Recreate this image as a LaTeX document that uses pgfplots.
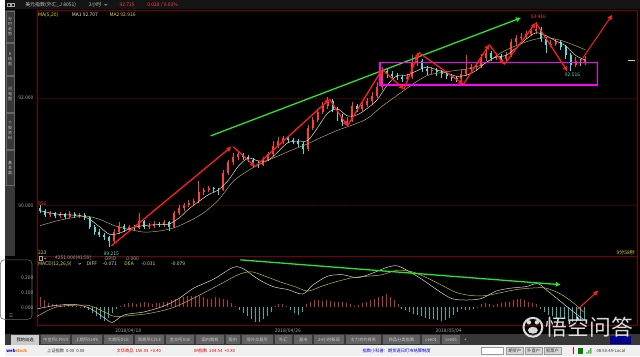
\documentclass[border=0pt]{standalone}
\usepackage{pgfplots}
\pgfplotsset{compat=1.18}
\usepackage{pgfplotstable}
\usepackage{fontspec}
\setmainfont{Noto Sans CJK SC}
\usetikzlibrary{arrows.meta}
\definecolor{brd}{RGB}{120,0,0}
\definecolor{grd}{RGB}{80,0,0}
\definecolor{upc}{RGB}{255,60,60}
\definecolor{dnc}{RGB}{80,220,220}
\definecolor{maone}{RGB}{225,225,200}
\definecolor{matwo}{RGB}{185,165,80}
\definecolor{arrred}{RGB}{255,30,30}
\definecolor{arrgreen}{RGB}{40,230,40}
\definecolor{mag}{RGB}{255,0,255}
\definecolor{lgray}{RGB}{170,170,170}
\definecolor{ylw}{RGB}{230,220,60}
\definecolor{histr}{RGB}{190,50,50}
\definecolor{histc}{RGB}{60,175,175}
\definecolor{tabbg}{RGB}{55,55,55}
\definecolor{tabtx}{RGB}{200,200,200}
\newcommand\fs{\fontsize{5}{6}\selectfont}
\newcommand\fss{\fontsize{4.3}{5}\selectfont}

\pgfplotstableread{
x o h l c
45 89.82 89.90 89.79 89.85
55 89.80 89.88 89.77 89.83
65 89.78 89.90 89.76 89.84
75 89.80 89.86 89.77 89.82
110 89.33 89.55 89.30 89.50
115 89.50 89.68 89.47 89.62
125 89.55 89.64 89.52 89.60
135 89.57 89.85 89.55 89.70
145 89.60 89.67 89.56 89.62
150 89.62 89.70 89.58 89.65
160 89.63 89.73 89.60 89.68
170 89.60 89.90 89.58 89.85
175 89.85 90.00 89.82 89.95
180 89.95 90.05 89.90 90.00
185 90.00 90.10 89.96 90.05
190 90.05 90.12 90.00 90.08
195 90.08 90.45 90.05 90.25
200 90.25 90.33 90.20 90.28
205 90.28 90.36 90.24 90.32
220 90.28 90.65 90.26 90.60
225 90.60 90.85 90.57 90.80
230 90.80 90.98 90.76 90.90
235 90.90 91.00 90.85 90.95
260 90.76 90.90 90.73 90.85
265 90.85 91.00 90.82 90.95
270 90.95 91.20 90.92 91.10
275 91.10 91.28 91.07 91.20
280 91.20 91.30 91.15 91.25
305 91.05 91.50 91.02 91.45
310 91.45 91.65 91.40 91.60
315 91.60 91.80 91.56 91.75
320 91.75 91.92 91.70 91.85
325 91.85 92.02 91.80 91.95
345 91.55 91.64 91.50 91.58
350 91.58 91.92 91.55 91.85
360 91.80 91.94 91.76 91.88
365 91.88 92.00 91.84 91.95
370 91.95 92.12 91.90 92.05
375 92.05 92.30 92.00 92.20
380 92.20 92.58 92.15 92.50
405 92.36 92.46 92.30 92.40
410 92.40 92.80 92.36 92.65
415 92.65 92.85 92.60 92.70
430 92.50 92.58 92.45 92.52
460 92.36 92.52 92.33 92.45
465 92.45 92.80 92.42 92.55
470 92.55 92.64 92.50 92.58
475 92.58 92.66 92.53 92.60
480 92.60 92.82 92.57 92.75
485 92.75 92.92 92.70 92.85
495 92.75 92.84 92.71 92.78
505 92.74 92.86 92.70 92.80
510 92.80 93.10 92.77 93.05
515 93.05 93.18 93.00 93.12
520 93.12 93.22 93.08 93.15
525 93.15 93.26 93.10 93.20
530 93.20 93.32 93.16 93.25
535 93.25 93.416 93.20 93.30
550 93.00 93.08 92.95 93.02
555 93.02 93.10 92.98 93.05
575 92.62 92.76 92.58 92.70
585 92.65 92.78 92.62 92.725
}\upcandles

\pgfplotstableread{
x o h l c
35 89.95 90.00 89.85 89.90
40 89.90 89.93 89.78 89.82
50 89.85 89.88 89.76 89.80
60 89.83 89.86 89.74 89.78
70 89.84 89.87 89.76 89.80
80 89.82 89.85 89.72 89.78
85 89.78 89.80 89.55 89.60
90 89.60 89.63 89.45 89.50
95 89.50 89.55 89.40 89.45
100 89.45 89.48 89.35 89.40
105 89.40 89.43 89.215 89.33
120 89.62 89.65 89.50 89.55
130 89.60 89.63 89.52 89.57
140 89.70 89.72 89.55 89.60
155 89.65 89.69 89.59 89.63
165 89.68 89.70 89.52 89.60
210 90.32 90.35 90.25 90.30
215 90.30 90.33 90.20 90.28
240 90.95 90.98 90.85 90.90
245 90.90 90.94 90.80 90.85
250 90.85 90.88 90.72 90.78
255 90.78 90.82 90.70 90.76
285 91.25 91.28 91.17 91.22
290 91.22 91.26 91.15 91.20
295 91.20 91.24 91.08 91.15
300 91.15 91.18 90.95 91.05
330 91.95 91.98 91.74 91.80
335 91.80 91.84 91.58 91.65
340 91.65 91.70 91.48 91.55
355 91.85 91.90 91.74 91.80
385 92.50 92.55 92.38 92.45
390 92.45 92.50 92.36 92.42
395 92.42 92.47 92.34 92.40
400 92.40 92.44 92.30 92.36
420 92.70 92.74 92.48 92.55
425 92.55 92.60 92.44 92.50
435 92.52 92.56 92.42 92.48
440 92.48 92.53 92.38 92.45
445 92.45 92.50 92.36 92.42
450 92.42 92.46 92.32 92.38
455 92.38 92.42 92.30 92.36
490 92.85 92.88 92.70 92.75
500 92.78 92.82 92.69 92.74
540 93.30 93.33 93.05 93.10
545 93.10 93.14 92.85 93.00
560 93.05 93.08 92.90 92.95
565 92.95 93.00 92.74 92.80
570 92.80 92.84 92.516 92.62
580 92.70 92.74 92.60 92.65
}\dncandles

\pgfplotstableread{
x v
32 0.09
36 0.07
40 0.05
44 0.03
48 0.02
52 0.02
56 0.015
60 0.02
64 0.015
68 0.01
72 0.01
76 0.005
80 -0.005
84 -0.02
88 -0.04
92 -0.06
96 -0.08
100 -0.09
104 -0.07
108 -0.04
112 -0.01
116 0.01
120 0.02
124 0.03
128 0.03
132 0.025
136 0.03
140 0.035
144 0.03
148 0.025
152 0.03
156 0.03
160 0.035
164 0.04
168 0.05
172 0.06
176 0.065
180 0.07
184 0.075
188 0.08
192 0.08
196 0.075
200 0.07
204 0.06
208 0.06
212 0.07
216 0.065
220 0.06
224 0.05
228 0.03
232 0.01
236 -0.02
240 -0.04
244 -0.06
248 -0.08
252 -0.10
256 -0.10
260 -0.08
264 -0.06
268 -0.03
272 0.01
276 0.02
280 0.02
284 0.01
288 -0.02
292 -0.04
296 -0.05
300 -0.03
304 0.02
308 0.04
312 0.05
316 0.05
320 0.045
324 0.05
328 0.045
332 0.04
336 0.035
340 0.04
344 0.03
348 0.02
352 0.01
356 0.015
360 0.03
364 0.04
368 0.05
372 0.06
376 0.07
380 0.08
384 0.09
388 0.07
392 0.05
396 0.02
400 -0.01
404 -0.02
408 -0.03
412 -0.045
416 -0.05
420 -0.06
424 -0.07
428 -0.075
432 -0.08
436 -0.085
440 -0.09
444 -0.085
448 -0.07
452 -0.05
456 -0.03
460 -0.01
464 -0.02
468 -0.015
472 -0.01
476 0.005
480 0.02
484 0.03
488 0.02
492 0.015
496 0.02
500 0.03
504 0.035
508 0.04
512 0.05
516 0.055
520 0.06
524 0.05
528 0.04
532 0.03
536 0.02
540 -0.01
544 -0.03
548 -0.05
552 -0.06
556 -0.07
560 -0.065
564 -0.08
568 -0.09
572 -0.10
576 -0.095
580 -0.09
584 -0.085
}\hist

\begin{document}
\begin{tikzpicture}[x=1pt,y=1pt]
% background
\fill[black] (0,0) rectangle (640,359);
\begin{scope}[shift={(0,359)},yscale=-1]
  % title bar
  \fill[black!92!white] (0,0) rectangle (640,9.5);
  \draw[lgray,line width=0.4pt] (2,3.5) rectangle (5,6.5) (6,3.5) rectangle (9,6.5);
  \node[anchor=west,text=tabtx,inner sep=0] at (20,5) {\fs 美元指数(外汇\_J 8051)};
  \node[anchor=west,text=tabtx,inner sep=0] at (84,5) {\fs 2小时};
  \draw[tabtx,line width=0.4pt] (100,4) -- (101.5,5.5) -- (103,4);
  \node[anchor=west,text=upc,inner sep=0] at (115,5) {\fs 92.725};
  \node[anchor=west,text=upc,inner sep=0] at (143,5) {\fs 0.028 / 0.03\%};
  % left strip
  \fill[black!78!white] (0,10) rectangle (10,258);
  \foreach \ya/\yb/\t in {11/43/分\\时\\走\\势, 44/76/K\\线\\图, 77/113/闪\\电\\图, 114/150/个\\股\\资\\料, 151/187/基\\本\\面}{
    \draw[black!60!white,line width=0.4pt] (0.5,\ya) rectangle (9.5,\yb);
    \node[text=tabtx,align=center,inner sep=0,font=\fontsize{4}{5}\selectfont] at (5,{(\ya+\yb)/2}) {\t};
  }
  \draw[black!60!white,line width=0.6pt,rounded corners=4pt] (-5,262) rectangle (27,322);
  \node[text=lgray,inner sep=0] at (6,318) {\fs 三};
\end{scope}

% ================= main price panel =================
\begin{axis}[at={(32pt,101pt)},anchor=south west,scale only axis,
  width=605pt,height=248pt,xmin=32,xmax=637,ymin=89.056,ymax=93.648,
  axis line style={draw=brd,line width=0.6pt},
  xtick=\empty,ytick={90,92},yticklabels={90.000,92.000},
  major tick length=0pt,
  yticklabel style={font=\fs,text=lgray},
  ymajorgrids,grid style={grd,densely dotted,line width=0.4pt},
  /pgf/number format/assume math mode=true]
% wicks
\addplot[draw=none,mark=none,forget plot,error bars/.cd,y dir=both,y explicit,error mark=none,
  error bar style={draw=upc,line width=0.5pt}]
  table[x=x,y=o,y error plus expr=\thisrow{h}-\thisrow{o},y error minus expr=\thisrow{o}-\thisrow{l}]{\upcandles};
\addplot[draw=none,mark=none,forget plot,error bars/.cd,y dir=both,y explicit,error mark=none,
  error bar style={draw=dnc,line width=0.5pt}]
  table[x=x,y=o,y error plus expr=\thisrow{h}-\thisrow{o},y error minus expr=\thisrow{o}-\thisrow{l}]{\dncandles};
% bodies
\addplot[draw=none,mark=none,forget plot,error bars/.cd,y dir=plus,y explicit,error mark=none,
  error bar style={draw=upc,line width=2pt}]
  table[x=x,y=o,y error plus expr={max(\thisrow{c}-\thisrow{o},0.012)}]{\upcandles};
\addplot[draw=none,mark=none,forget plot,error bars/.cd,y dir=plus,y explicit,error mark=none,
  error bar style={draw=dnc,line width=2pt}]
  table[x=x,y=c,y error plus expr={max(\thisrow{o}-\thisrow{c},0.012)}]{\dncandles};
% moving averages
\addplot[maone,line width=0.5pt,smooth] coordinates {(35,89.90)(45,89.86)(55,89.83)(65,89.82)(75,89.81)(85,89.74)(95,89.60)(105,89.46)(115,89.48)(125,89.56)(135,89.61)(145,89.63)(155,89.64)(165,89.65)(175,89.76)(185,89.93)(195,90.07)(205,90.20)(215,90.29)(225,90.47)(235,90.73)(245,90.88)(255,90.83)(265,90.84)(275,91.00)(285,91.17)(295,91.20)(305,91.21)(315,91.45)(325,91.72)(335,91.80)(345,91.67)(355,91.69)(365,91.81)(375,91.97)(385,92.24)(395,92.42)(405,92.43)(415,92.51)(425,92.58)(435,92.53)(445,92.47)(455,92.41)(465,92.43)(475,92.52)(485,92.67)(495,92.77)(505,92.80)(515,92.94)(525,93.10)(535,93.22)(545,93.17)(555,93.07)(565,92.98)(575,92.80)(585,92.71)};
\addplot[matwo,line width=0.5pt,smooth] coordinates {(35,89.62)(50,89.70)(65,89.76)(80,89.80)(95,89.74)(110,89.62)(125,89.55)(140,89.50)(155,89.52)(170,89.58)(185,89.70)(200,89.86)(215,90.10)(230,90.45)(245,90.65)(260,90.80)(275,90.92)(290,91.04)(305,91.15)(320,91.28)(335,91.40)(350,91.50)(365,91.62)(380,91.85)(395,92.05)(410,92.25)(425,92.42)(440,92.48)(455,92.52)(470,92.56)(485,92.66)(500,92.85)(515,92.98)(530,93.08)(545,93.13)(560,93.08)(575,92.98)(585,92.90)};
% annotations
\addplot[arrgreen,line width=1.3pt,-{Triangle[length=5pt,width=4.5pt]}] coordinates {(207,91.296)(520,93.50)};
\draw[mag,line width=1.6pt] (axis cs:378,92.241) rectangle (axis cs:597,92.667);
\pgfplotsset{zz/.style={arrred,line width=1.3pt,-{Triangle[length=5pt,width=4.5pt]}}}
\addplot[zz] coordinates {(107,89.241)(228,91.093)};
\addplot[zz] coordinates {(230,91.093)(252,90.722)};
\addplot[zz] coordinates {(252,90.722)(327,91.981)};
\addplot[zz] coordinates {(327,91.981)(345,91.481)};
\addplot[zz] coordinates {(345,91.481)(380,92.537)};
\addplot[zz] coordinates {(380,92.537)(402,92.167)};
\addplot[zz] coordinates {(402,92.167)(417,92.852)};
\addplot[zz] coordinates {(417,92.852)(462,92.259)};
\addplot[zz] coordinates {(462,92.259)(488,93.0)};
\addplot[zz] coordinates {(488,93.0)(503,92.630)};
\addplot[zz] coordinates {(503,92.630)(535,93.407)};
\addplot[zz] coordinates {(535,93.407)(567,92.50)};
\addplot[zz,line width=1pt] coordinates {(580,92.685)(612,93.556)};
\addplot[ylw,line width=0.6pt] coordinates {(628,92.71)(635,92.71)};
\node[text=upc,inner sep=0] at (axis cs:537.5,93.52) {\fs 93.416};
\node[text=dnc,inner sep=0] at (axis cs:572,92.43) {\fs 92.516};
\node[text=dnc,inner sep=0] at (axis cs:107,89.10) {\fs 89.215};
\node[text=upc,anchor=west,inner sep=0] at (axis cs:33,90.03) {\fs 956};
\node[text=ylw,anchor=west,inner sep=0] at (axis cs:33,89.12) {\fs 223};
\node[text=ylw,anchor=east,inner sep=0] at (axis cs:635,89.12) {\fs 9分58秒};
\node[text=ylw,anchor=west,inner sep=0] at (axis cs:33,93.56) {\fs MA(5,20)};
\node[text=maone,anchor=west,inner sep=0] at (axis cs:67,93.56) {\fs MA1 92.707};
\node[text=ylw,anchor=west,inner sep=0] at (axis cs:105,93.56) {\fs MA2 92.916};
\end{axis}

% ================= MACD panel =================
\begin{axis}[at={(32pt,31pt)},anchor=south west,scale only axis,
  width=605pt,height=70pt,xmin=32,xmax=637,ymin=-0.12,ymax=0.3467,
  axis line style={draw=brd,line width=0.6pt},
  xtick={124,285,447},xticklabels={2018/04/18,2018/04/26,2018/05/04},
  ytick={0,0.1,0.2},yticklabels={0.000,0.100,0.200},
  major tick length=0pt,
  yticklabel style={font=\fs,text=lgray},
  xticklabel style={font=\fs,text=lgray},
  /pgf/number format/assume math mode=true]
\addplot[histr,ycomb,line width=1pt,mark=none,restrict y to domain=0:1] table[x=x,y=v]{\hist};
\addplot[histc,ycomb,line width=1pt,mark=none,restrict y to domain=-1:0] table[x=x,y=v]{\hist};
\addplot[white!85!black,line width=0.5pt,smooth] coordinates {(32,-0.01)(50,0.013)(70,0.02)(85,-0.005)(100,-0.07)(108,-0.10)(120,-0.05)(140,-0.03)(160,0.01)(175,0.06)(190,0.13)(210,0.19)(230,0.27)(240,0.26)(255,0.19)(270,0.14)(285,0.12)(300,0.09)(310,0.15)(325,0.21)(340,0.22)(355,0.20)(370,0.23)(385,0.27)(395,0.28)(405,0.25)(420,0.19)(435,0.12)(450,0.06)(465,0.05)(480,0.06)(495,0.11)(510,0.13)(525,0.14)(537,0.16)(547,0.11)(560,0.04)(573,-0.03)(583,-0.08)};
\addplot[ylw!85!black,line width=0.5pt,smooth] coordinates {(32,-0.06)(50,0.0)(70,0.015)(85,0.012)(100,-0.03)(110,-0.06)(125,-0.055)(145,-0.04)(165,-0.01)(180,0.03)(195,0.08)(215,0.15)(235,0.22)(248,0.24)(262,0.21)(278,0.17)(292,0.14)(305,0.11)(318,0.14)(332,0.17)(350,0.20)(365,0.21)(380,0.22)(395,0.25)(410,0.24)(425,0.20)(440,0.15)(455,0.10)(470,0.08)(485,0.08)(500,0.10)(515,0.12)(530,0.13)(545,0.13)(560,0.09)(573,0.03)(583,-0.03)};
\addplot[arrgreen,line width=1.3pt,-{Triangle[length=5pt,width=4.5pt]}] coordinates {(237,0.32)(560,0.153)};
\addplot[arrred,line width=1pt,-{Triangle[length=5pt,width=4.5pt]}] coordinates {(577,-0.013)(598,0.113)};
\end{axis}

\begin{scope}[shift={(0,359)},yscale=-1]
  % MACD header
  \draw[lgray,line width=0.4pt] (34,258.8) rectangle (37.5,262.3);
  \draw[lgray,line width=0.4pt] (39,259.8) -- (40.2,261) -- (41.4,259.8);
  \node[anchor=west,text=lgray,inner sep=0] at (50,260.5) {\fs 4251.000(41:59)};
  \node[anchor=west,text=lgray,inner sep=0] at (100,260.5) {\fs OPID};
  \node[anchor=west,text=lgray,inner sep=0] at (122,260.5) {\fs 0.000};
  \node[anchor=west,text=ylw,inner sep=0] at (33,266) {\fs MACD(12,26,9)};
  \draw[ylw,line width=0.4pt] (74,265.3) -- (75.2,266.5) -- (76.4,265.3);
  \node[anchor=west,text=white!85!black,inner sep=0] at (82,266) {\fs DIFF};
  \node[anchor=west,text=white!85!black,inner sep=0] at (98,266) {\fs -0.071};
  \node[anchor=west,text=ylw,inner sep=0] at (120,266) {\fs DEA};
  \node[anchor=west,text=ylw,inner sep=0] at (137,266) {\fs -0.031};
  \node[anchor=west,text=white!85!black,inner sep=0] at (167,266) {\fs -0.079};
  % tab bar
  \fill[tabbg] (0,337) rectangle (640,348);
  \fill[black!20!white] (6,337.5) rectangle (34,347.5);
  \node[text=black,inner sep=0] at (20,342.5) {\fss 我的自选};
  \foreach \xa/\xb/\t in {36/66/中金所CFFEX,67/98/上期所SHFE,99/129/大商所DCE,130/161/郑商所CZCE,162/191/金交所SGE,192/221/国内期权,222/237/股市,238/270/境外交易所,271/290/外汇,291/310/基市,311/342/24小时新闻,343/379/主力合约排名,380/419/商品分类指数,420/439/ce601,440/459/ce605}{
    \fill[black!62!white] (\xa+0.5,338) rectangle (\xb-0.5,347);
    \node[text=tabtx,inner sep=0] at ({(\xa+\xb)/2},342.5) {\fss \t};
  }
  \node[text=tabtx,inner sep=0] at (464,342.5) {\fs +};
  \fill[blue!55!black] (610,338.5) rectangle (631,346.5);
  % status bar
  \fill[white!94!black] (0,348) rectangle (640,359);
  \node[anchor=west,inner sep=0] at (1,353.5) {\fss\bfseries\textcolor{blue!70!black}{web}\textcolor{orange}{stock}};
  \node[anchor=west,text=black!80,inner sep=0] at (42,353.5) {\fss 上证指数\ \ 0.00\ \ 0.00};
  \node[anchor=west,text=red!85!black,inner sep=0] at (112,353.5) {\fss 文华商品\ \ 156.03\ \ +0.40};
  \node[anchor=west,text=red!85!black,inner sep=0] at (190,353.5) {\fss 0R指数\ \ 204.54\ \ +0.83};
  \node[anchor=west,text=blue!80!black,inner sep=0] at (360,353.5) {\fss 指数小科普：期货逐日盯市结算制度};
  \draw[black!40,fill=white] (480,350) rectangle (502,357);
  \foreach \xa/\t in {505/期货户,524/外盘户,543/股票户}{
    \draw[black!40,fill=black!15] (\xa,350) rectangle (\xa+17.5,357);
    \node[text=black!80,inner sep=0] at (\xa+8.75,353.5) {\fss \t};
  }
  \draw[red,line width=0.6pt] (573,350) -- (573,357);
  \fill[green!50!black] (577,350.5) rectangle (583,356.5);
  \fill[green!60!black] (586,356.5) rectangle (587,355) (588,356.5) rectangle (589,353) (590,356.5) rectangle (591,351);
  \node[anchor=west,text=black!80,inner sep=0] at (596,353.5) {\fss 08:50:49-Local};
  % watermark
  \begin{scope}[white,opacity=0.85]
    \draw[line width=2pt] (532,330) circle[radius=9.5];
    \fill (532,333) ellipse[x radius=5, y radius=3.5];
    \fill (528,325) circle[radius=2.2];
    \fill (536,325) circle[radius=2.2];
    \node[text=white,anchor=west,inner sep=0] at (545,330) {\fontsize{22}{24}\selectfont 悟空问答};
  \end{scope}
\end{scope}
\end{tikzpicture}
\end{document}
